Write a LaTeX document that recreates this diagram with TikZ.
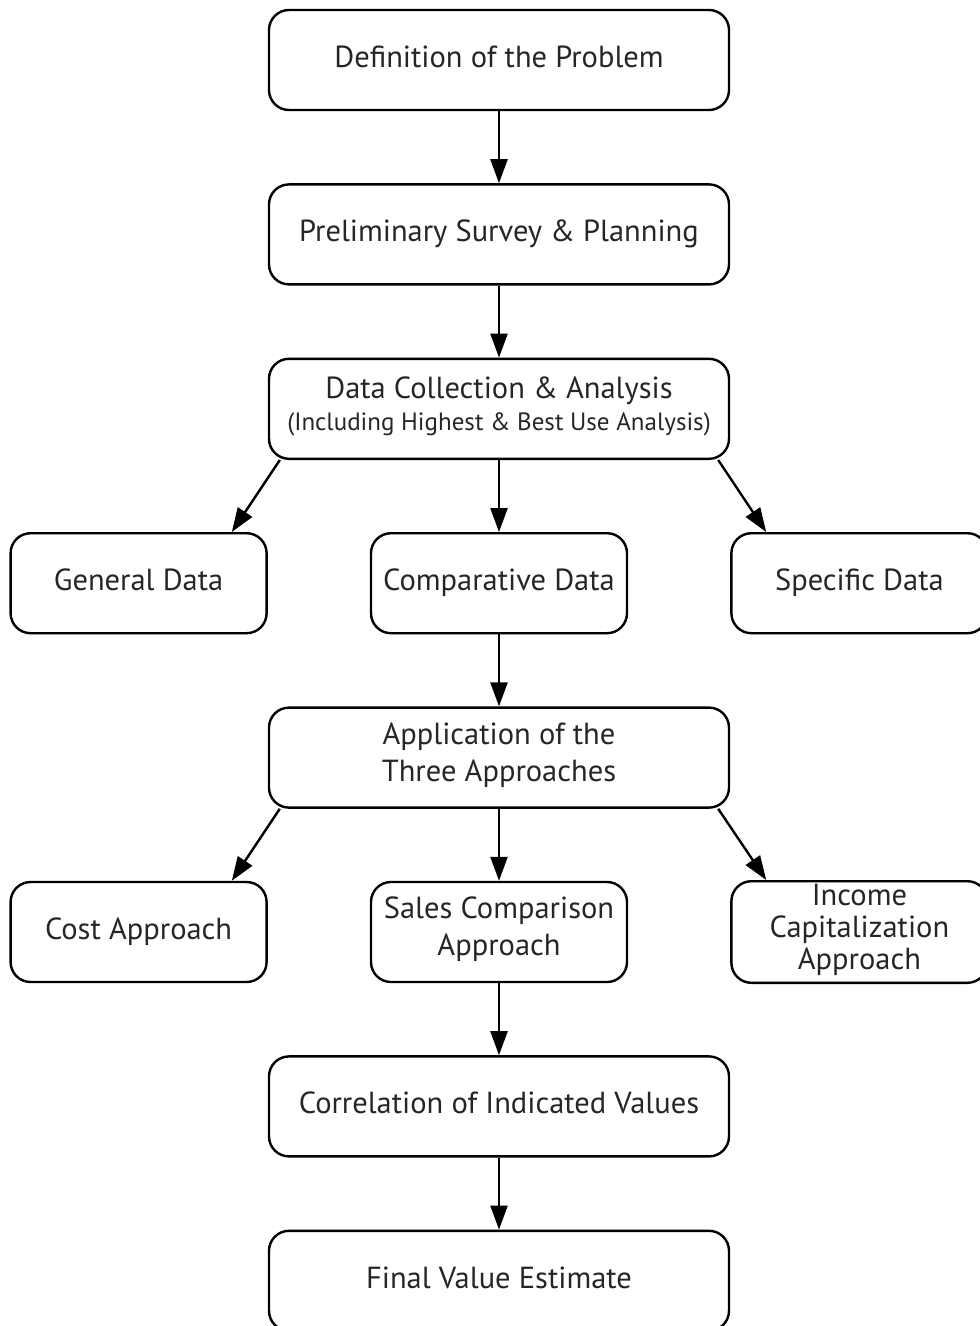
\documentclass[tikz,border=0pt]{standalone}
\usepackage{fontspec}
\setmainfont{PT Sans}
\usetikzlibrary{positioning,arrows.meta}

\begin{document}
\begin{tikzpicture}[
                x=1pt,y=-1pt,
                node distance=72pt and 102pt,
                box/.style={draw,rounded corners=20pt,line width=2.4pt,minimum height=100pt,
                    align=center,text=black!85,font=\fontsize{30.5}{37}\selectfont,
                    execute at begin node=\strut,execute at end node=\strut},
                wide/.style={box,minimum width=460pt},
                narrow/.style={box,minimum width=256pt},
                flow/.style={-{Triangle[length=24pt,width=17pt]},line width=2.4pt}
            ]
                \useasboundingbox (0,0) rectangle (980,1326);
                \node (problem) [wide] at (499,60) {Definition of the Problem};
                \node (survey) [wide,below=of problem] {Preliminary Survey \& Planning};
                \node (collect) [wide,below=of survey] {Data Collection \& Analysis\\[-5pt]
                    {\fontsize{25}{30}\selectfont (Including Highest \& Best Use Analysis)}};
                \node (comparative) [narrow,below=of collect] {Comparative Data};
                \node (general) [narrow,left=of comparative] {General Data};
                \node (specific) [narrow,right=of comparative] {Specific Data};
                \node (approaches) [wide,below=of comparative] {Application of the\\Three Approaches};
                \node (sales) [narrow,below=of approaches] {Sales Comparison\\Approach};
                \node (cost) [narrow,left=of sales] {Cost Approach};
                \node (income) [narrow,right=of sales,font=\fontsize{30.5}{32}\selectfont] {Income\\Capitalization\\Approach};
                \node (correlation) [wide,below=of sales] {Correlation of Indicated Values};
                \node (estimate) [wide,below=of correlation] {Final Value Estimate};
                \foreach \a/\b in {problem/survey,survey/collect,collect/comparative,comparative/approaches,
                    approaches/sales,sales/correlation,correlation/estimate} {
                    \draw [flow] (\a) -- (\b);
                }
                \foreach \a/\l/\r in {collect/general/specific,approaches/cost/income} {
                    \draw [flow] ([xshift=12pt]\a.south west) -- ([xshift=-36pt]\l.north east);
                    \draw [flow] ([xshift=-12pt]\a.south east) -- ([xshift=36pt]\r.north west);
                }
            \end{tikzpicture}
\end{document}
